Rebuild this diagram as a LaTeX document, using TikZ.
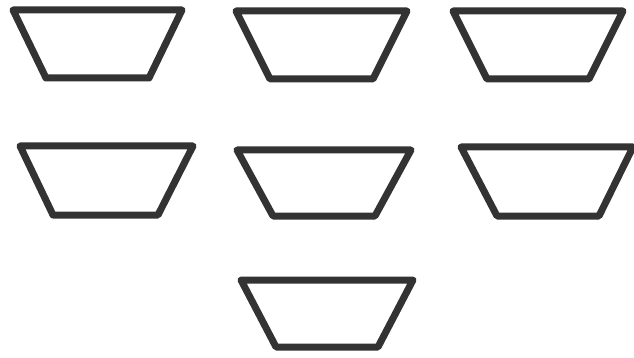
\documentclass[tikz,border=0pt]{standalone}
\usepackage{tikz}
\definecolor{trapgray}{HTML}{333333}
\begin{document}
\begin{tikzpicture}[x=1pt,y=-1pt,
  trap/.style={draw=trapgray,line width=7pt,line join=round,line cap=round}]
\useasboundingbox (0,0) rectangle (634,358);
\draw[trap] (13,10) -- (182,10) -- (149,78) -- (46,78) -- cycle;
\draw[trap] (236,11) -- (407,11) -- (373,79) -- (270,79) -- cycle;
\draw[trap] (453,11) -- (623,11) -- (589,79) -- (487,79) -- cycle;
\draw[trap] (20,146) -- (193,146) -- (158,215) -- (53,215) -- cycle;
\draw[trap] (237,150) -- (411,150) -- (375,216) -- (273,216) -- cycle;
\draw[trap] (461,147) -- (633,147) -- (599,216) -- (497,216) -- cycle;
\draw[trap] (241,280) -- (413,280) -- (378,347) -- (276,347) -- cycle;
\end{tikzpicture}
\end{document}
